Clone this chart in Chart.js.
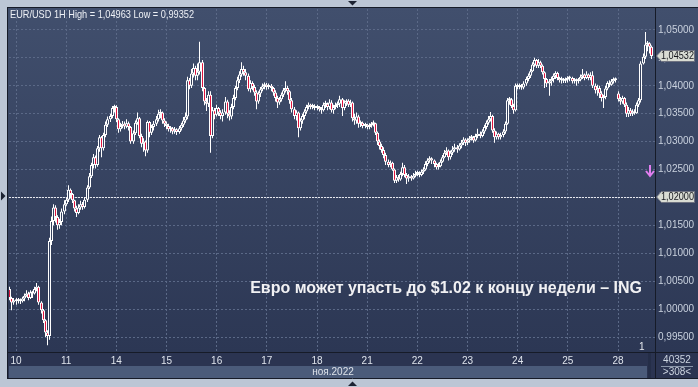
<!DOCTYPE html>
<html>
<head>
<meta charset="utf-8">
<script src="https://cdn.jsdelivr.net/npm/chart.js@4.4.1/dist/chart.umd.min.js"></script>
<style>
  html, body { margin: 0; padding: 0; background: #bcc6d5; }
  #chart { display: block; }
</style>
</head>
<body>
<canvas id="chart" width="698" height="387"></canvas>
<script>
// EUR/USD 1H, 9 nov (last 3 hours) .. 28 nov 2022
const dayLabels = ['10', '11', '14', '15', '16', '17', '18', '21', '22', '23', '24', '25', '28'];
const dayFirstIndex = [3, 27, 51, 75, 99, 123, 147, 171, 195, 219, 243, 267, 291];

const firstOpen = 1.0036;
const gapOpens = [[291, 1.0386]];

const closes = [
  1.0020, 1.0012, 1.0016,
  1.0014, 1.0016, 1.0014, 1.0019, 1.0024, 1.0028, 1.0020, 1.0030, 1.0028, 1.0036, 1.0040, 1.0012, 0.9998, 0.9980, 0.9958, 0.9952, 1.0122, 1.0158, 1.0182, 1.0165, 1.0150, 1.0156, 1.0175, 1.0188,
  1.0196, 1.0214, 1.0206, 1.0195, 1.0180, 1.0172, 1.0182, 1.0188, 1.0183, 1.0196, 1.0218, 1.0238, 1.0258, 1.0272, 1.0258, 1.0288, 1.0308, 1.0288, 1.0312, 1.0330, 1.0340, 1.0346, 1.0360, 1.0362,
  1.0340, 1.0322, 1.0328, 1.0332, 1.0327, 1.0333, 1.0326, 1.0300, 1.0315, 1.0334, 1.0342, 1.0310, 1.0296, 1.0300, 1.0284, 1.0335, 1.0316, 1.0326, 1.0332, 1.0340, 1.0350, 1.0352, 1.0338, 1.0332,
  1.0328, 1.0322, 1.0324, 1.0318, 1.0322, 1.0317, 1.0324, 1.0330, 1.0338, 1.0345, 1.0410, 1.0400, 1.0422, 1.0432, 1.0418, 1.0425, 1.0442, 1.0396, 1.0372, 1.0368, 1.0384, 1.0310, 1.0356, 1.0348,
  1.0360, 1.0352, 1.0346, 1.0352, 1.0372, 1.0350, 1.0345, 1.0362, 1.0378, 1.0396, 1.0410, 1.0420, 1.0430, 1.0424, 1.0418, 1.0394, 1.0405, 1.0398, 1.0388, 1.0372, 1.0386, 1.0394, 1.0399, 1.0402,
  1.0398, 1.0400, 1.0396, 1.0388, 1.0378, 1.0370, 1.0376, 1.0384, 1.0392, 1.0396, 1.0390, 1.0374, 1.0358, 1.0346, 1.0352, 1.0324, 1.0338, 1.0346, 1.0354, 1.0362, 1.0366, 1.0362, 1.0364, 1.0360,
  1.0362, 1.0358, 1.0356, 1.0366, 1.0368, 1.0362, 1.0370, 1.0356, 1.0362, 1.0365, 1.0368, 1.0376, 1.0360, 1.0370, 1.0373, 1.0366, 1.0370, 1.0342, 1.0338, 1.0345, 1.0332, 1.0334, 1.0328, 1.0330,
  1.0326, 1.0329, 1.0331, 1.0333, 1.0316, 1.0300, 1.0292, 1.0285, 1.0276, 1.0264, 1.0258, 1.0262, 1.0250, 1.0230, 1.0236, 1.0232, 1.0242, 1.0254, 1.0240, 1.0234, 1.0238, 1.0234, 1.0239, 1.0242,
  1.0244, 1.0240, 1.0246, 1.0250, 1.0260, 1.0266, 1.0270, 1.0266, 1.0260, 1.0254, 1.0256, 1.0264, 1.0272, 1.0280, 1.0284, 1.0272, 1.0280, 1.0286, 1.0290, 1.0286, 1.0293, 1.0298, 1.0304, 1.0298,
  1.0302, 1.0306, 1.0308, 1.0302, 1.0310, 1.0314, 1.0310, 1.0318, 1.0326, 1.0334, 1.0340, 1.0346, 1.0320, 1.0308, 1.0314, 1.0308, 1.0312, 1.0318, 1.0332, 1.0374, 1.0376, 1.0364, 1.0356, 1.0400,
  1.0398, 1.0400, 1.0397, 1.0404, 1.0412, 1.0418, 1.0426, 1.0438, 1.0446, 1.0436, 1.0442, 1.0436, 1.0424, 1.0412, 1.0404, 1.0408, 1.0412, 1.0418, 1.0423, 1.0414, 1.0410, 1.0412, 1.0409, 1.0411,
  1.0413, 1.0414, 1.0408, 1.0410, 1.0408, 1.0411, 1.0416, 1.0420, 1.0414, 1.0420, 1.0414, 1.0419, 1.0400, 1.0392, 1.0396, 1.0386, 1.0378, 1.0380, 1.0395, 1.0405, 1.0402, 1.0408, 1.0412, 1.0410,
  1.0376, 1.0372, 1.0378, 1.0366, 1.0350, 1.0356, 1.0350, 1.0354, 1.0351, 1.0366, 1.0374, 1.0440, 1.0452, 1.0474, 1.0476, 1.0470, 1.04532
];

const highs = [
  1.0040, 1.0022, 1.0020,
  1.0020, 1.0020, 1.0019, 1.0022, 1.0028, 1.0034, 1.0031, 1.0034, 1.0033, 1.0040, 1.0047, 1.0042, 1.0014, 1.0000, 0.9982, 0.9962, 1.0128, 1.0166, 1.0188, 1.0186, 1.0168, 1.0162, 1.0180, 1.0195,
  1.0200, 1.0222, 1.0216, 1.0208, 1.0196, 1.0185, 1.0188, 1.0194, 1.0192, 1.0200, 1.0222, 1.0244, 1.0262, 1.0278, 1.0275, 1.0292, 1.0312, 1.0310, 1.0316, 1.0336, 1.0345, 1.0350, 1.0364, 1.0366,
  1.0365, 1.0342, 1.0334, 1.0337, 1.0336, 1.0340, 1.0336, 1.0328, 1.0320, 1.0338, 1.0352, 1.0344, 1.0314, 1.0306, 1.0302, 1.0338, 1.0337, 1.0330, 1.0337, 1.0346, 1.0357, 1.0358, 1.0354, 1.0342,
  1.0336, 1.0332, 1.0328, 1.0326, 1.0326, 1.0324, 1.0328, 1.0334, 1.0344, 1.0352, 1.0416, 1.0414, 1.0430, 1.0440, 1.0436, 1.0440, 1.0479, 1.0446, 1.0398, 1.0378, 1.0390, 1.0390, 1.0362, 1.0360,
  1.0366, 1.0362, 1.0356, 1.0358, 1.0380, 1.0375, 1.0356, 1.0368, 1.0384, 1.0400, 1.0416, 1.0426, 1.0442, 1.0436, 1.0430, 1.0422, 1.0410, 1.0408, 1.0402, 1.0392, 1.0390, 1.0398, 1.0404, 1.0406,
  1.0405, 1.0404, 1.0403, 1.0398, 1.0392, 1.0382, 1.0380, 1.0388, 1.0396, 1.0408, 1.0400, 1.0392, 1.0378, 1.0362, 1.0356, 1.0354, 1.0342, 1.0350, 1.0358, 1.0366, 1.0370, 1.0368, 1.0368, 1.0367,
  1.0366, 1.0364, 1.0362, 1.0370, 1.0373, 1.0370, 1.0376, 1.0374, 1.0366, 1.0370, 1.0372, 1.0382, 1.0378, 1.0374, 1.0376, 1.0376, 1.0375, 1.0372, 1.0350, 1.0352, 1.0348, 1.0338, 1.0336, 1.0334,
  1.0332, 1.0333, 1.0335, 1.0338, 1.0334, 1.0318, 1.0304, 1.0296, 1.0290, 1.0280, 1.0268, 1.0266, 1.0264, 1.0252, 1.0240, 1.0240, 1.0246, 1.0262, 1.0258, 1.0244, 1.0242, 1.0240, 1.0244, 1.0248,
  1.0248, 1.0247, 1.0250, 1.0254, 1.0265, 1.0270, 1.0274, 1.0272, 1.0268, 1.0262, 1.0262, 1.0268, 1.0276, 1.0285, 1.0290, 1.0286, 1.0284, 1.0292, 1.0296, 1.0294, 1.0297, 1.0303, 1.0308, 1.0306,
  1.0306, 1.0310, 1.0312, 1.0310, 1.0314, 1.0323, 1.0318, 1.0322, 1.0330, 1.0338, 1.0346, 1.0353, 1.0348, 1.0324, 1.0318, 1.0316, 1.0316, 1.0322, 1.0336, 1.0378, 1.0380, 1.0378, 1.0368, 1.0404,
  1.0404, 1.0404, 1.0403, 1.0408, 1.0416, 1.0422, 1.0430, 1.0442, 1.0450, 1.0448, 1.0448, 1.0445, 1.0438, 1.0426, 1.0414, 1.0412, 1.0416, 1.0422, 1.0426, 1.0425, 1.0416, 1.0416, 1.0414, 1.0415,
  1.0417, 1.0418, 1.0416, 1.0414, 1.0413, 1.0414, 1.0420, 1.0430, 1.0422, 1.0426, 1.0422, 1.0424, 1.0426, 1.0404, 1.0402, 1.0400, 1.0390, 1.0384, 1.0400, 1.0408, 1.0410, 1.0412, 1.0415, 1.0415,
  1.0390, 1.0380, 1.0382, 1.0380, 1.0370, 1.0362, 1.0360, 1.0358, 1.0358, 1.0370, 1.0378, 1.0444, 1.0458, 1.04963, 1.0480, 1.0478, 1.0472
];

const lows = [
  1.0016, 0.9998, 1.0008,
  1.0008, 1.0010, 1.0009, 1.0012, 1.0014, 1.0022, 1.0016, 1.0018, 1.0020, 1.0026, 1.0032, 1.0008, 0.9992, 0.9975, 0.9950, 0.99352, 0.9945, 1.0115, 1.0150, 1.0155, 1.0142, 1.0144, 1.0150, 1.0170,
  1.0185, 1.0192, 1.0198, 1.0190, 1.0175, 1.0165, 1.0170, 1.0178, 1.0178, 1.0180, 1.0192, 1.0215, 1.0235, 1.0252, 1.0252, 1.0255, 1.0282, 1.0272, 1.0284, 1.0308, 1.0326, 1.0335, 1.0342, 1.0352,
  1.0335, 1.0316, 1.0318, 1.0324, 1.0322, 1.0324, 1.0320, 1.0296, 1.0296, 1.0312, 1.0330, 1.0306, 1.0290, 1.0282, 1.0274, 1.0280, 1.0308, 1.0312, 1.0320, 1.0328, 1.0336, 1.0342, 1.0332, 1.0326,
  1.0322, 1.0318, 1.0316, 1.0313, 1.0314, 1.0312, 1.0314, 1.0320, 1.0326, 1.0334, 1.0340, 1.0394, 1.0396, 1.0415, 1.0410, 1.0410, 1.0420, 1.0390, 1.0365, 1.0355, 1.0362, 1.0280, 1.0306, 1.0340,
  1.0345, 1.0346, 1.0340, 1.0336, 1.0348, 1.0342, 1.0338, 1.0340, 1.0358, 1.0374, 1.0392, 1.0405, 1.0416, 1.0418, 1.0410, 1.0390, 1.0388, 1.0392, 1.0382, 1.0358, 1.0368, 1.0380, 1.0390, 1.0394,
  1.0393, 1.0394, 1.0390, 1.0382, 1.0372, 1.0360, 1.0366, 1.0372, 1.0380, 1.0388, 1.0384, 1.0368, 1.0352, 1.0340, 1.0338, 1.0308, 1.0320, 1.0332, 1.0340, 1.0350, 1.0358, 1.0358, 1.0358, 1.0356,
  1.0356, 1.0354, 1.0350, 1.0354, 1.0360, 1.0356, 1.0358, 1.0352, 1.0350, 1.0358, 1.0360, 1.0362, 1.0346, 1.0356, 1.0364, 1.0362, 1.0362, 1.0336, 1.0330, 1.0332, 1.0325, 1.0326, 1.0324, 1.0324,
  1.0322, 1.0322, 1.0325, 1.0327, 1.0312, 1.0294, 1.0286, 1.0280, 1.0270, 1.0258, 1.0254, 1.0254, 1.0248, 1.0226, 1.0226, 1.0228, 1.0230, 1.0238, 1.0236, 1.0224, 1.0228, 1.0230, 1.0232, 1.0236,
  1.0238, 1.0236, 1.0238, 1.0242, 1.0248, 1.0256, 1.0262, 1.0260, 1.0254, 1.0250, 1.0250, 1.0254, 1.0262, 1.0270, 1.0276, 1.0266, 1.0268, 1.0276, 1.0282, 1.0280, 1.0284, 1.0288, 1.0294, 1.0292,
  1.0294, 1.0298, 1.0302, 1.0298, 1.0300, 1.0306, 1.0306, 1.0308, 1.0314, 1.0322, 1.0330, 1.0336, 1.0316, 1.0298, 1.0304, 1.0304, 1.0304, 1.0308, 1.0314, 1.0330, 1.0366, 1.0360, 1.0350, 1.0354,
  1.0394, 1.0394, 1.0393, 1.0394, 1.0400, 1.0408, 1.0414, 1.0424, 1.0434, 1.0432, 1.0432, 1.0432, 1.0420, 1.0396, 1.0398, 1.0382, 1.0400, 1.0406, 1.0412, 1.0410, 1.0406, 1.0404, 1.0405, 1.0405,
  1.0406, 1.0408, 1.0404, 1.0404, 1.0400, 1.0404, 1.0408, 1.0412, 1.0410, 1.0412, 1.0410, 1.0410, 1.0396, 1.0386, 1.0382, 1.0378, 1.0372, 1.0360, 1.0376, 1.0392, 1.0398, 1.0400, 1.0404, 1.0406,
  1.0372, 1.0366, 1.0368, 1.0362, 1.0344, 1.0344, 1.0346, 1.0346, 1.0348, 1.0350, 1.0362, 1.0370, 1.0438, 1.0448, 1.0462, 1.0458, 1.0448
];

const levelPrice = 1.02;
const yMin = 0.992321, yMax = 1.05375;

const opens = closes.map((c, i) => i === 0 ? firstOpen : closes[i - 1]);
gapOpens.forEach(([i, o]) => { opens[i] = o; });

const bodies = closes.map((c, i) => ({ x: i, y: [opens[i], c] }));
const wicks = closes.map((c, i) => ({
  x: i,
  y: [Math.min(lows[i], opens[i], c), Math.max(highs[i], opens[i], c)]
}));

const fmt = v => v.toFixed(5).replace('.', ',');
const FONT = '"Liberation Sans", Arial, sans-serif';

function priceTag(ctx, y, text) {
  ctx.beginPath();
  ctx.moveTo(656.5, y);
  ctx.lineTo(661.5, y - 5.5);
  ctx.lineTo(694.5, y - 5.5);
  ctx.lineTo(694.5, y + 5.5);
  ctx.lineTo(661.5, y + 5.5);
  ctx.closePath();
  ctx.fillStyle = '#d9dcd3';
  ctx.fill();
  ctx.strokeStyle = '#6d7180';
  ctx.lineWidth = 1;
  ctx.stroke();
  ctx.fillStyle = '#14161c';
  ctx.font = '10px ' + FONT;
  ctx.textAlign = 'left';
  ctx.textBaseline = 'middle';
  ctx.fillText(text, 661, y + 0.5, 33);
}

const terminal = {
  id: 'terminal',
  beforeDraw(chart) {
    const c = chart.ctx;
    c.save();
    c.fillStyle = '#bcc6d5';
    c.fillRect(0, 0, 698, 387);
    const g = c.createLinearGradient(0, 7, 0, 352);
    g.addColorStop(0, '#414f6d');
    g.addColorStop(1, '#2c3754');
    c.fillStyle = g;
    c.fillRect(8, 7, 690, 345);
    c.fillStyle = '#2b3451';
    c.fillRect(8, 352, 690, 26);
    c.fillStyle = '#4b5b7a';
    c.fillRect(9, 366, 638, 12);
    c.fillStyle = '#252e48';
    c.fillRect(648, 353, 3, 25);
    c.restore();
  },
  beforeDatasetsDraw(chart) {
    // snap candles to whole pixels so they stay crisp
    chart.data.datasets.forEach((ds, k) => {
      chart.getDatasetMeta(k).data.forEach(el => { el.x = Math.floor(el.x) + 0.5; });
    });
    const c = chart.ctx, a = chart.chartArea;
    const y = Math.round(chart.scales.y.getPixelForValue(levelPrice)) + 0.5;
    c.save();
    c.strokeStyle = '#e6e8ee';
    c.lineWidth = 1;
    c.setLineDash([2, 1]);
    c.beginPath();
    c.moveTo(a.left, y);
    c.lineTo(a.right, y);
    c.stroke();
    c.restore();
  },
  afterDraw(chart) {
    const c = chart.ctx, ys = chart.scales.y;
    c.save();
    // frame lines
    c.strokeStyle = '#161b28';
    c.lineWidth = 1;
    c.beginPath();
    c.moveTo(7.5, 7); c.lineTo(7.5, 378);
    c.moveTo(7, 7.5); c.lineTo(698, 7.5);
    c.moveTo(655.5, 7); c.lineTo(655.5, 378);
    c.moveTo(8, 352.5); c.lineTo(698, 352.5);
    c.moveTo(7, 378.5); c.lineTo(698, 378.5);
    c.stroke();

    // small navigation triangles
    c.fillStyle = '#1c2232';
    c.beginPath(); c.moveTo(348, 1); c.lineTo(357, 1); c.lineTo(352.5, 5.5); c.fill();
    c.beginPath(); c.moveTo(348, 386); c.lineTo(357, 386); c.lineTo(352.5, 381.5); c.fill();
    c.beginPath(); c.moveTo(1, 191.5); c.lineTo(1, 200.5); c.lineTo(5.5, 196); c.fill();

    // title
    c.fillStyle = '#eef1f6';
    c.font = '11px ' + FONT;
    c.textAlign = 'left';
    c.textBaseline = 'middle';
    c.fillText('EUR/USD 1H High = 1,04963 Low = 0,99352', 10, 15, 184);

    // headline
    c.font = 'bold 16px ' + FONT;
    c.fillStyle = '#f1f1f3';
    c.textAlign = 'right';
    c.fillText('Евро может упасть до $1.02 к концу недели – ING', 642, 289, 392);

    // price tags
    priceTag(c, Math.round(ys.getPixelForValue(closes[closes.length - 1])), fmt(closes[closes.length - 1]));
    priceTag(c, Math.round(ys.getPixelForValue(levelPrice)), fmt(levelPrice));

    // pink signal arrow
    c.strokeStyle = '#e27ef0';
    c.lineWidth = 2;
    c.beginPath();
    c.moveTo(650, 165); c.lineTo(650, 176);
    c.moveTo(646, 171); c.lineTo(650, 176); c.lineTo(654, 171);
    c.stroke();

    // misc texts
    c.font = '10px ' + FONT;
    c.fillStyle = '#e6e9ef';
    c.textAlign = 'left';
    c.fillText('1', 639, 347);
    c.fillStyle = '#ccd4e0';
    c.textAlign = 'center';
    c.fillText('40352', 677, 360);
    c.fillText('>308<', 677, 372);
    c.strokeStyle = '#8a96aa';
    c.lineWidth = 1;
    c.beginPath(); c.moveTo(661, 366.5); c.lineTo(693, 366.5); c.stroke();
    c.fillStyle = '#dde2ea';
    c.fillText('ноя.2022', 333, 372);
    c.restore();
  }
};

new Chart(document.getElementById('chart'), {
  type: 'bar',
  data: {
    datasets: [
      {
        data: wicks,
        backgroundColor: '#ffffff',
        barThickness: 1,
        grouped: false,
        inflateAmount: 0,
        order: 2
      },
      {
        data: bodies,
        backgroundColor: ctx => closes[ctx.dataIndex] < opens[ctx.dataIndex] ? '#e0143e' : '#36425f',
        borderColor: '#ffffff',
        borderWidth: 1,
        borderSkipped: false,
        barThickness: 3,
        minBarLength: 2,
        grouped: false,
        inflateAmount: 0,
        order: 1
      }
    ]
  },
  options: {
    responsive: false,
    animation: false,
    events: [],
    layout: { padding: { left: 9, top: 8, right: 0, bottom: 0 } },
    plugins: { legend: { display: false }, tooltip: { enabled: false } },
    scales: {
      x: {
        type: 'linear',
        min: -0.35,
        max: 308.7,
        offset: false,
        afterBuildTicks: s => { s.ticks = dayFirstIndex.map(v => ({ value: v })); },
        afterFit: s => { s.height = 35; },
        ticks: {
          autoSkip: false,
          maxRotation: 0,
          padding: 3,
          color: '#dfe4ec',
          font: { family: FONT, size: 10 },
          callback: v => dayLabels[dayFirstIndex.indexOf(v)]
        },
        grid: { color: '#5b6987', drawTicks: false, offset: false },
        border: { display: false, dash: [2, 2] }
      },
      y: {
        type: 'linear',
        position: 'right',
        min: yMin,
        max: yMax,
        afterFit: s => { s.width = 43; },
        ticks: {
          stepSize: 0.005,
          includeBounds: false,
          padding: 3,
          color: '#c9d1de',
          font: { family: FONT, size: 10 },
          callback: v => fmt(v)
        },
        grid: { color: '#5b6987', drawTicks: false },
        border: { display: false, dash: [2, 2] }
      }
    }
  },
  plugins: [terminal]
});
</script>
</body>
</html>
